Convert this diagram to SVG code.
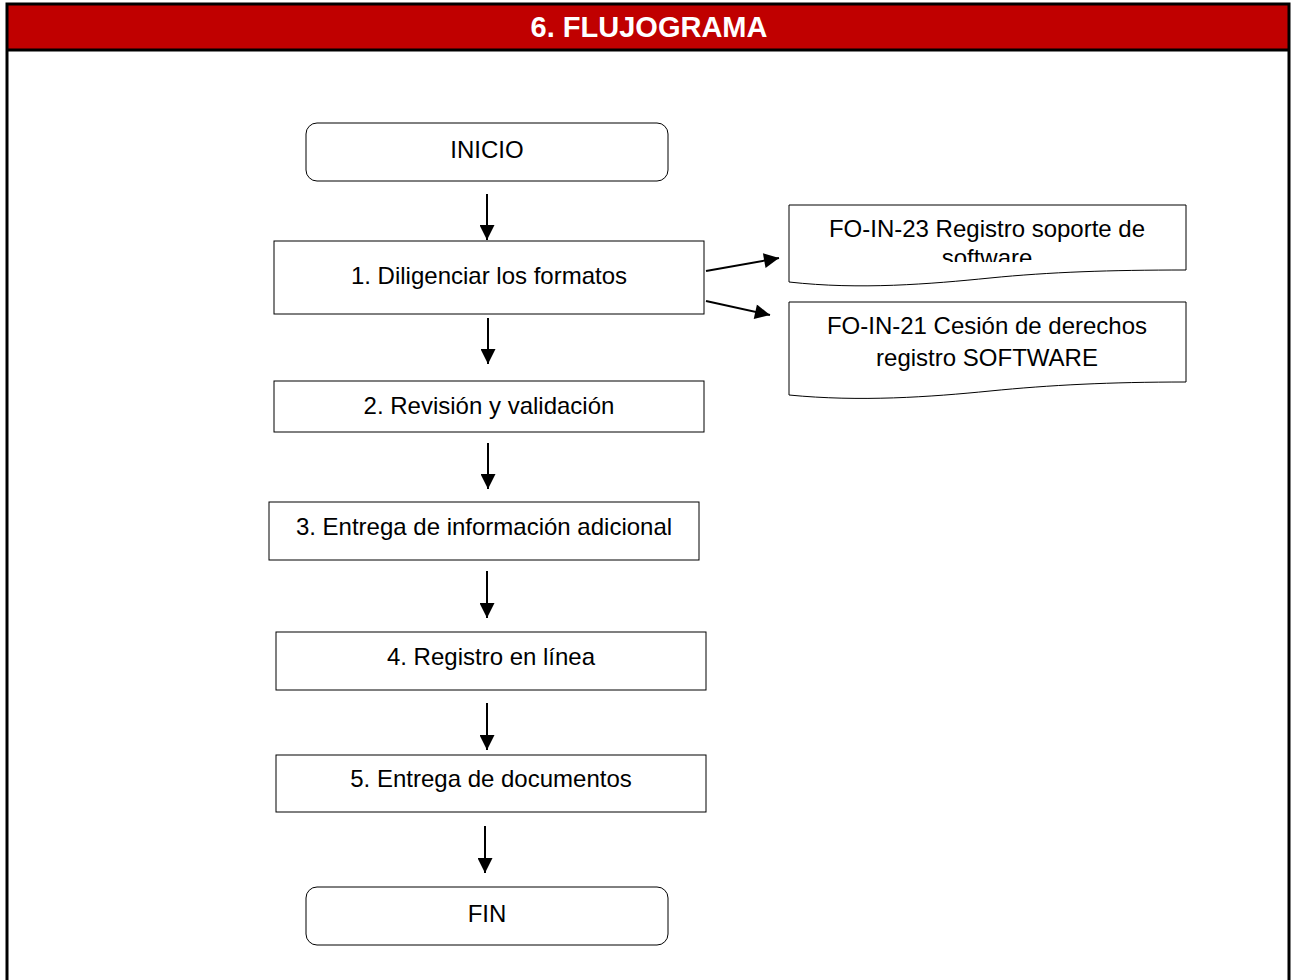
<svg xmlns="http://www.w3.org/2000/svg" width="1292" height="980" viewBox="0 0 1292 980">
<style>
.box{fill:#fff;stroke:#000;stroke-width:1}
.t{font-family:"Liberation Sans",Arial,sans-serif;font-size:24px;fill:#000;text-anchor:middle}
</style>
<defs>
<marker id="ah2" viewBox="0 0 10 10" refX="10" refY="5" markerWidth="17" markerHeight="15" markerUnits="userSpaceOnUse" orient="auto">
<path d="M0,0 L10,5 L0,10 Z" fill="#000"/>
</marker>
<clipPath id="clip1"><rect x="789" y="205" width="398" height="57"/></clipPath>
</defs>
<rect x="0" y="0" width="1292" height="980" fill="#fff"/>
<g id="frame">
<rect x="7" y="4" width="1282" height="46" fill="#C00000"/>
<path d="M7,990 V4 H1289 V990" fill="none" stroke="#000" stroke-width="3"/>
<line x1="7" y1="50" x2="1289" y2="50" stroke="#000" stroke-width="3"/>
<text x="649" y="37" font-family="'Liberation Sans',Arial,sans-serif" font-size="29" font-weight="bold" fill="#fff" text-anchor="middle">6. FLUJOGRAMA</text>
</g>
<g id="connectors">
<line x1="487" y1="194" x2="487" y2="240" stroke="#000" stroke-width="2" marker-end="url(#ah2)"/>
<line x1="706" y1="271" x2="779" y2="258" stroke="#000" stroke-width="2" marker-end="url(#ah2)"/>
<line x1="706" y1="301" x2="770" y2="315" stroke="#000" stroke-width="2" marker-end="url(#ah2)"/>
<line x1="488" y1="318" x2="488" y2="364" stroke="#000" stroke-width="2" marker-end="url(#ah2)"/>
<line x1="488" y1="443" x2="488" y2="489" stroke="#000" stroke-width="2" marker-end="url(#ah2)"/>
<line x1="487" y1="571" x2="487" y2="618" stroke="#000" stroke-width="2" marker-end="url(#ah2)"/>
<line x1="487" y1="703" x2="487" y2="750" stroke="#000" stroke-width="2" marker-end="url(#ah2)"/>
<line x1="485" y1="826" x2="485" y2="873" stroke="#000" stroke-width="2" marker-end="url(#ah2)"/>
</g>
<g id="inicio">
<rect class="box" x="306" y="123" width="362" height="58" rx="11"/>
<text class="t" x="487" y="158">INICIO</text>
</g>
<g id="paso1">
<rect class="box" x="274" y="241" width="430" height="73"/>
<text class="t" x="489" y="284">1. Diligenciar los formatos</text>
</g>
<g id="doc1">
<path class="box" d="M789,205 H1186 V270 C1110,270 1050,272 990,278 C930,284 860,290 789,282 Z"/>
<g clip-path="url(#clip1)">
<text class="t" x="987" y="237">FO-IN-23 Registro soporte de</text>
<text class="t" x="987" y="266">software</text>
</g>
</g>
<g id="doc2">
<path class="box" d="M789,302 H1186 V382 C1110,382 1050,385 990,391 C930,397 860,402 789,395 Z"/>
<text class="t" x="987" y="334">FO-IN-21 Cesión de derechos</text>
<text class="t" x="987" y="366">registro SOFTWARE</text>
</g>
<g id="paso2">
<rect class="box" x="274" y="381" width="430" height="51"/>
<text class="t" x="489" y="414">2. Revisión y validación</text>
</g>
<g id="paso3">
<rect class="box" x="269" y="502" width="430" height="58"/>
<text class="t" x="484" y="535">3. Entrega de información adicional</text>
</g>
<g id="paso4">
<rect class="box" x="276" y="632" width="430" height="58"/>
<text class="t" x="491" y="665">4. Registro en línea</text>
</g>
<g id="paso5">
<rect class="box" x="276" y="755" width="430" height="57"/>
<text class="t" x="491" y="787">5. Entrega de documentos</text>
</g>
<g id="fin">
<rect class="box" x="306" y="887" width="362" height="58" rx="11"/>
<text class="t" x="487" y="922">FIN</text>
</g>
</svg>
